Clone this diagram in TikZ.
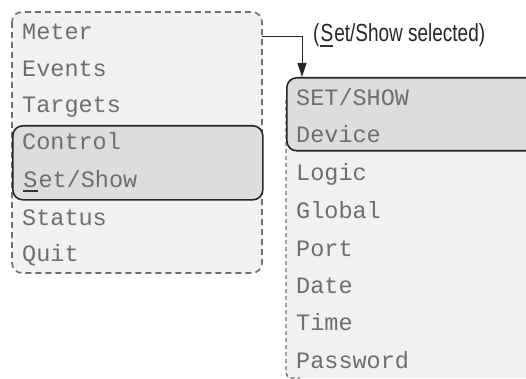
\documentclass[tikz,border=0pt]{standalone}
\usepackage{fontspec}
\setmonofont{Liberation Mono}
\setsansfont{Liberation Sans}
\usetikzlibrary{arrows.meta}
\definecolor{menutext}{HTML}{6E6E6E}
\definecolor{paneledge}{HTML}{707070}
\definecolor{panelfill}{HTML}{F0F1F3}
\definecolor{selfill}{HTML}{DCDDDF}
\tikzset{
  panel/.style={draw=paneledge, fill=panelfill, line width=1.6pt,
    dash pattern=on 6pt off 4pt, rounded corners=10pt},
  selbox/.style={draw=black!85, fill=selfill, line width=1.6pt, rounded corners=10pt},
  item/.style={anchor=base west, inner sep=0pt, text=menutext,
    font=\fontsize{23.5}{28}\selectfont\ttfamily},
}
% letter with a hot-key underline
\newcommand{\ulS}[1]{\tikz[baseline=0pt]{\node[inner sep=0pt, anchor=base west] (u) {#1};
  \draw[black!80, line width=1.8pt] ([yshift=-4pt]u.base west) -- ([yshift=-4pt]u.base east);}}
\begin{document}
\begin{tikzpicture}[x=1pt, y=-1pt]
  \useasboundingbox (0,0) rectangle (526,379);
  \clip (0,0) rectangle (526,379);

  % main menu panel
  \draw[panel] (12,12) rectangle (262,273);
  \node[selbox, minimum width=250pt, minimum height=74pt, anchor=north west]
    (lsel) at (12,125) {};
  \node[coordinate] (lpanelout) at (262,36) {};

  \node[item] (meter)   at (22,40)  {Meter};
  \node[item] (events)  at (22,77)  {Events};
  \node[item] (targets) at (22,113) {Targets};
  \node[item] (control) at (22,150) {Control};
  \node[item] (setshow) at (22,187) {\ulS{S}et/Show};
  \node[item] (status)  at (22,225) {Status};
  \node[item] (quit)    at (22,261) {Quit};

  % Set/Show submenu panel (runs past the right and bottom edges)
  \fill[panelfill] (286,100) rectangle (560,378);
  \draw[draw=paneledge, line width=1.3pt, dash pattern=on 4pt off 3pt, rounded corners=6pt]
    (286,100) -- (286,378) -- (300,378);
  \node[selbox, minimum width=280pt, minimum height=73pt, anchor=north west]
    (rsel) at (286,77) {};

  \node[item] (hdr)      at (296,106) {SET/SHOW};
  \node[item] (device)   at (296,143) {Device};
  \node[item] (logic)    at (296,181) {Logic};
  \node[item] (global)   at (296,218) {Global};
  \node[item] (port)     at (296,256) {Port};
  \node[item] (date)     at (296,293) {Date};
  \node[item] (time)     at (296,330) {Time};
  \node[item] (password) at (296,368) {Password};

  % connector to the submenu
  \node[coordinate] (rselin) at (302,77) {};
  \draw[black!85, line width=0.9pt, -{Triangle[length=14pt, width=9pt]}]
    (lpanelout) -| (rselin);

  \node[anchor=north west, inner sep=0pt, text=black!85] (caption) at (313,23)
    {\resizebox*{172pt}{24pt}{\fontsize{20}{22}\selectfont\sffamily(\ulS{S}et/Show selected)}};
\end{tikzpicture}
\end{document}
